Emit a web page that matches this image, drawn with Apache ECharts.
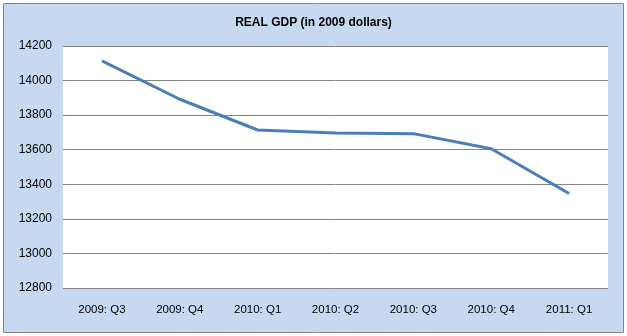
<!DOCTYPE html>
<html><head><meta charset="utf-8">
<script src="https://cdn.jsdelivr.net/npm/echarts@6/dist/echarts.min.js"></script>
<style>html,body{margin:0;padding:0;background:#fff}#c{width:627px;height:336px}</style>
</head><body><div id="c"></div>
<script>
const categories = ['2009: Q3','2009: Q4','2010: Q1','2010: Q2','2010: Q3','2010: Q4','2011: Q1'];
const gdpValues = [14114, 13892, 13714, 13697, 13693, 13606, 13347];
const yMin = 12800, yMax = 14200, yStep = 200;

const chart = echarts.init(document.getElementById('c'));
chart.setOption({
  animation: false,
  backgroundColor: '#ffffff',
  graphic: [{
    type: 'rect', z: -10, silent: true,
    shape: { x: 3.5, y: 3.5, width: 620, height: 329 },
    style: { fill: '#C6D9F1', stroke: '#868686', lineWidth: 1 }
  }],
  title: {
    text: 'REAL GDP (in 2009 dollars)',
    left: 'center', top: 12,
    textStyle: { fontFamily: 'Liberation Sans', fontSize: 12, fontWeight: 'bold', color: '#000' }
  },
  grid: { left: 63, right: 19, top: 46, bottom: 48, backgroundColor: '#ffffff', show: true, borderWidth: 0 },
  xAxis: {
    type: 'category', data: categories, boundaryGap: true,
    axisLine: { show: false }, axisTick: { show: false },
    axisLabel: { fontFamily: 'Liberation Sans', fontSize: 11.5, color: '#000', margin: 16 }
  },
  yAxis: {
    type: 'value', min: yMin, max: yMax, interval: yStep,
    axisLine: { show: false }, axisTick: { show: false },
    splitLine: { lineStyle: { color: '#868686', width: 1 } },
    axisLabel: { fontFamily: 'Liberation Sans', fontSize: 12, color: '#000', margin: 11,
      formatter: function (v) { return String(v); } }
  },
  series: [{
    type: 'line', data: gdpValues, showSymbol: false,
    lineStyle: { color: '#4A7EBB', width: 3 }
  }]
});
</script></body></html>
